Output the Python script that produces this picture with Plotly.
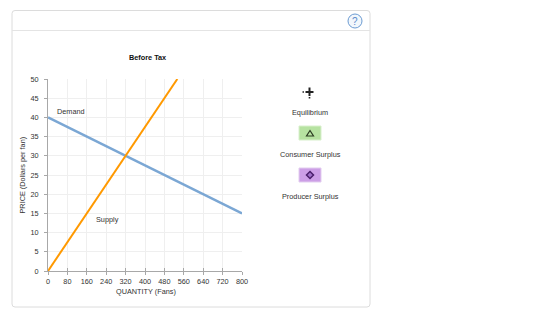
import plotly.graph_objects as go

# ---- data ----
demand_q = [0, 800]
demand_p = [40, 15]
supply_q = [0, 533.33]
supply_p = [0, 50]
x_ticks = [0, 80, 160, 240, 320, 400, 480, 560, 640, 720, 800]
y_ticks = [0, 5, 10, 15, 20, 25, 30, 35, 40, 45, 50]
legend_labels = ["Equilibrium", "Consumer Surplus", "Producer Surplus"]

W, H = 560, 319
L, R, T, B = 48, 242, 79, 271  # plot area in pixels


def px(x):
    return (x - L) / (R - L)


def py(y):
    return (B - y) / (B - T)


FONT = "Liberation Sans, Arial, sans-serif"
FS = 7.3

fig = go.Figure()
fig.add_trace(go.Scatter(x=demand_q, y=demand_p, mode="lines",
                         line=dict(color="#7ba7d4", width=2.5),
                         cliponaxis=False, hoverinfo="skip", showlegend=False))
fig.add_trace(go.Scatter(x=supply_q, y=supply_p, mode="lines",
                         line=dict(color="#ff9900", width=2),
                         cliponaxis=False, hoverinfo="skip", showlegend=False))
# invisible trace on overlay axis to draw the inward half of x ticks
fig.add_trace(go.Scatter(x=[0], y=[0], xaxis="x2", yaxis="y", mode="markers",
                         marker=dict(opacity=0), hoverinfo="skip", showlegend=False))

shapes = []
# panel with rounded corners
x0, x1, y0, y1, r = px(12), px(370), py(10.5), py(307), 3
rx, ry = r / (R - L), r / (B - T)
shapes.append(dict(
    type="path", xref="paper", yref="paper", layer="below",
    path=(f"M {x0+rx},{y0} L {x1-rx},{y0} Q {x1},{y0} {x1},{y0-ry} "
          f"L {x1},{y1+ry} Q {x1},{y1} {x1-rx},{y1} L {x0+rx},{y1} "
          f"Q {x0},{y1} {x0},{y1+ry} L {x0},{y0-ry} Q {x0},{y0} {x0+rx},{y0} Z"),
    line=dict(color="#dcdcdc", width=1), fillcolor="white"))
# header separator
shapes.append(dict(type="line", xref="paper", yref="paper", x0=px(12), x1=px(370),
                   y0=py(30.5), y1=py(30.5), line=dict(color="#e4e4e4", width=1)))
# help icon
shapes.append(dict(type="circle", xref="paper", yref="paper",
                   x0=px(348), x1=px(362), y0=py(14), y1=py(28),
                   line=dict(color="#6b9bd2", width=1), fillcolor="#f2f7fc"))
# equilibrium icon
cx, cy = 309.5, 92
shapes += [
    dict(type="rect", xref="paper", yref="paper", x0=px(cx - 1), x1=px(cx + 1),
         y0=py(cy - 4.5), y1=py(cy + 4), line=dict(width=0), fillcolor="#222"),
    dict(type="rect", xref="paper", yref="paper", x0=px(cx - 4), x1=px(cx + 4),
         y0=py(cy - 1), y1=py(cy + 1), line=dict(width=0), fillcolor="#222"),
    dict(type="rect", xref="paper", yref="paper", x0=px(cx - 7), x1=px(cx - 5.5),
         y0=py(cy - 0.7), y1=py(cy + 0.7), line=dict(width=0), fillcolor="#222"),
    dict(type="rect", xref="paper", yref="paper", x0=px(cx - 0.8), x1=px(cx + 0.8),
         y0=py(cy + 5), y1=py(cy + 6.5), line=dict(width=0), fillcolor="#222"),
]
# consumer surplus box + triangle
bx0, bx1 = 299, 321
shapes.append(dict(type="rect", xref="paper", yref="paper", x0=px(bx0), x1=px(bx1),
                   y0=py(126), y1=py(140), line=dict(color="#d8efcc", width=1),
                   fillcolor="#b6e2a1"))
tcx, tcy = 310, 133.5
shapes.append(dict(type="path", xref="paper", yref="paper",
                   path=f"M {px(tcx)},{py(tcy-3)} L {px(tcx+3.5)},{py(tcy+2.5)} "
                        f"L {px(tcx-3.5)},{py(tcy+2.5)} Z",
                   line=dict(color="#2a3a20", width=1.2), fillcolor="#b6e2a1"))
# producer surplus box + diamond
shapes.append(dict(type="rect", xref="paper", yref="paper", x0=px(bx0), x1=px(bx1),
                   y0=py(168), y1=py(182), line=dict(color="#e2cdef", width=1),
                   fillcolor="#cc9ee6"))
dcx, dcy = 310, 175
shapes.append(dict(type="path", xref="paper", yref="paper",
                   path=f"M {px(dcx)},{py(dcy-3.5)} L {px(dcx+3.5)},{py(dcy)} "
                        f"L {px(dcx)},{py(dcy+3.5)} L {px(dcx-3.5)},{py(dcy)} Z",
                   line=dict(color="#4b1f6b", width=1.5), fillcolor="#a070c8"))

ann = []
def text(x, y, s, size=FS, color="#333", bold=False, angle=0, xanchor="center"):
    ann.append(dict(xref="paper", yref="paper", x=px(x), y=py(y), text=f"<b>{s}</b>" if bold else s,
                    showarrow=False, font=dict(family=FONT, size=size, color=color),
                    textangle=angle, xanchor=xanchor, yanchor="middle"))

text(147, 57, "Before Tax", size=FS, color="#111", bold=True)
text(21.5, 175, "PRICE (Dollars per fan)", angle=-90)
text(145.5, 291.5, "QUANTITY (Fans)")
text(54.5, 111, "Demand", xanchor="left")
text(93.5, 219.5, "Supply", xanchor="left")
text(310, 112, legend_labels[0])
text(310, 154, legend_labels[1])
text(310, 196, legend_labels[2])
text(355, 21.5, "?", size=10, color="#5a8ccc")

axis_common = dict(showgrid=True, gridcolor="#efefef", gridwidth=1,
                   showline=True, linecolor="#a8a8a8", linewidth=1,
                   ticks="outside", ticklen=3, tickcolor="#a8a8a8",
                   tickfont=dict(family=FONT, size=FS, color="#333"),
                   zeroline=False, fixedrange=True)

fig.update_layout(
    width=W, height=H, margin=dict(l=L, r=W - R, t=T, b=H - B),
    paper_bgcolor="white", plot_bgcolor="white", showlegend=False,
    font=dict(family=FONT, size=FS, color="#333"),
    shapes=shapes, annotations=ann,
    xaxis=dict(range=[0, 800], tickvals=x_ticks, ticktext=[str(v) for v in x_ticks],
               **axis_common),
    xaxis2=dict(range=[0, 800], tickvals=x_ticks, overlaying="x", side="bottom",
                showticklabels=False, showgrid=False, showline=False, zeroline=False,
                ticks="inside", ticklen=3, tickcolor="#a8a8a8", fixedrange=True),
    yaxis=dict(range=[0, 50], tickvals=y_ticks, ticktext=[str(v) for v in y_ticks],
               ticklabelstandoff=4, **axis_common),
)

fig.write_html("out.html", config={"displayModeBar": False})
